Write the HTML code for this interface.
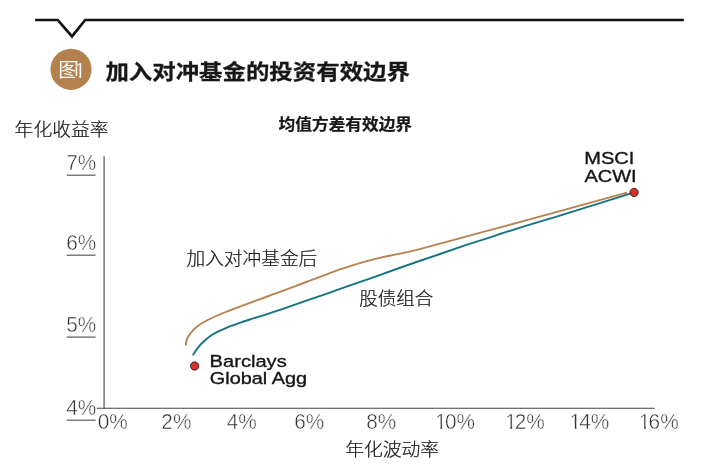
<!DOCTYPE html>
<html lang="zh">
<head>
<meta charset="utf-8">
<title>图1 加入对冲基金的投资有效边界</title>
<style>
html,body{margin:0;padding:0;background:#fff;}
body{width:713px;height:469px;overflow:hidden;}
svg{display:block;}
.cjk{font-family:"Liberation Sans","Noto Sans CJK SC",sans-serif;}
.lat{font-family:"Liberation Sans",sans-serif;}
.lt{font-weight:300;fill:#151515;stroke:#151515;stroke-width:0.22px;}
.hv{font-weight:700;fill:#171717;stroke:#171717;stroke-width:0.3px;}
.num{font-family:"Liberation Sans",sans-serif;font-size:20.8px;fill:#2e2e2e;stroke:#fff;stroke-width:0.45px;paint-order:fill stroke;}
.lab{fill:#151515;stroke:#151515;stroke-width:0.35px;}
</style>
</head>
<body>
<svg width="713" height="469" viewBox="0 0 713 469">
<rect width="713" height="469" fill="#fff"/>
<!-- header rule with notch -->
<path d="M35.2 20 H57.8 L72 36.3 L85.2 20 H683.8" fill="none" stroke="#111" stroke-width="2.7" stroke-linejoin="miter"/>
<!-- badge -->
<circle cx="71" cy="69.3" r="20.6" fill="#b3804e"/>
<text transform="translate(58.2 77.3) scale(1.1 1)" class="cjk" font-size="18.8" font-weight="400" fill="#fff">图</text>
<text x="73.7" y="78" class="lat" font-size="22" fill="#fff" stroke="#b3804e" stroke-width="0.35" paint-order="fill stroke">1</text>
<rect x="74.9" y="75.9" width="4.2" height="3" fill="#b3804e"/><rect x="81.3" y="75.9" width="4.2" height="3" fill="#b3804e"/>
<!-- title -->
<text transform="translate(105.4 79) scale(1 0.89)" class="cjk hv" font-size="23.44">加入对冲基金的投资有效边界</text>
<text transform="translate(278.6 129.5) scale(1 0.95)" class="cjk hv" font-size="16.7" style="stroke-width:0.25px">均值方差有效边界</text>
<!-- axis titles -->
<text transform="translate(14.6 136.2) scale(1 0.96)" class="cjk lt" font-size="18.8">年化收益率</text>
<text transform="translate(345.2 455.75) scale(1 0.95)" class="cjk lt" font-size="18.8">年化波动率</text>
<!-- axes -->
<line x1="104.1" y1="156.2" x2="104.1" y2="408.8" stroke="#777" stroke-width="1.5"/>
<line x1="96.7" y1="408.25" x2="654.6" y2="408.25" stroke="#444" stroke-width="1.05"/>
<!-- y ticks -->
<g stroke="#555" stroke-width="1.15">
<line x1="66.7" y1="175.2" x2="95.6" y2="175.2"/>
<line x1="66.7" y1="255.2" x2="95.6" y2="255.2"/>
<line x1="66.7" y1="337.1" x2="95.6" y2="337.1"/>
<line x1="66.7" y1="420.2" x2="95.6" y2="420.2"/>
</g>
<g class="num" text-anchor="middle">
<text transform="translate(81.2 170) scale(1 1.045)">7%</text>
<text transform="translate(81.2 250.2) scale(1 1.045)">6%</text>
<text transform="translate(81.2 331.6) scale(1 1.045)">5%</text>
<text transform="translate(81.2 414.5) scale(1 1.045)">4%</text>
<text transform="translate(112.7 428.7) scale(1 1.045)">0%</text>
<text transform="translate(176.4 428.7) scale(1 1.045)">2%</text>
<text transform="translate(241.7 428.7) scale(1 1.045)">4%</text>
<text transform="translate(309.3 428.7) scale(1 1.045)">6%</text>
<text transform="translate(381.3 428.7) scale(1 1.045)">8%</text>
<text transform="translate(435.1 428.7) scale(1 1.045)" text-anchor="start">1</text>
<rect x="436.1" y="426.7" width="4.3" height="3" fill="#fff" stroke="none"/><rect x="442.3" y="426.7" width="4" height="3" fill="#fff" stroke="none"/>
<text transform="translate(444.9 428.7) scale(1 1.045)" text-anchor="start">0%</text>
<text transform="translate(504.9 428.7) scale(1 1.045)" text-anchor="start">1</text>
<rect x="505.9" y="426.7" width="4.3" height="3" fill="#fff" stroke="none"/><rect x="512.1" y="426.7" width="4" height="3" fill="#fff" stroke="none"/>
<text transform="translate(514.7 428.7) scale(1 1.045)" text-anchor="start">2%</text>
<text transform="translate(569.5 428.7) scale(1 1.045)" text-anchor="start">1</text>
<rect x="570.5" y="426.7" width="4.3" height="3" fill="#fff" stroke="none"/><rect x="576.7" y="426.7" width="4" height="3" fill="#fff" stroke="none"/>
<text transform="translate(579.3 428.7) scale(1 1.045)" text-anchor="start">4%</text>
<text transform="translate(638.8 428.7) scale(1 1.045)" text-anchor="start">1</text>
<rect x="639.8" y="426.7" width="4.3" height="3" fill="#fff" stroke="none"/><rect x="646.0" y="426.7" width="4" height="3" fill="#fff" stroke="none"/>
<text transform="translate(648.6 428.7) scale(1 1.045)" text-anchor="start">6%</text>
</g>
<!-- curves -->
<path d="M185.8 345.6 C185.9 344.8 186.0 342.5 186.4 341.0 C186.8 339.5 187.5 338.0 188.3 336.5 C189.2 335.0 190.2 333.5 191.5 332.0 C192.8 330.5 194.3 328.9 196.0 327.5 C197.7 326.1 199.7 324.6 201.8 323.3 C203.9 322.0 206.0 320.9 208.8 319.5 C211.6 318.1 214.7 316.6 218.4 315.0 C222.1 313.4 226.9 311.4 231.2 309.8 C235.5 308.2 238.2 307.2 244.0 305.1 C249.8 303.0 260.0 299.2 266.0 297.0 C272.0 294.8 273.9 294.1 280.0 291.9 C286.1 289.6 295.7 286.0 302.4 283.5 C309.1 281.0 313.3 279.4 320.0 276.9 C326.7 274.4 334.9 271.2 342.4 268.7 C349.9 266.2 358.3 263.6 364.9 261.7 C371.4 259.8 377.1 258.5 381.7 257.4 C386.2 256.3 386.7 256.4 392.2 255.2 C397.7 254.0 406.6 252.3 414.6 250.4 C422.6 248.5 435.8 244.8 440.0 243.7 L491.7 229.7 L553.4 212.8 L615.1 195.9 L627 192.7" fill="none" stroke="#b78350" stroke-width="1.9" stroke-linejoin="round"/>
<path d="M192.8 355.4 C193.2 354.7 194.3 352.8 195.4 351.2 C196.5 349.6 197.7 347.8 199.2 346.1 C200.7 344.4 202.4 342.7 204.3 341.0 C206.2 339.3 208.3 337.4 210.7 335.8 C213.0 334.2 215.6 332.8 218.4 331.4 C221.2 330.0 224.2 328.6 227.4 327.3 C230.6 326.0 233.8 325.0 237.6 323.7 C241.4 322.4 242.9 321.8 250.0 319.5 C257.1 317.2 267.5 314.0 280.0 309.8 C292.5 305.6 309.9 299.4 324.9 294.4 C339.9 288.9 350.6 285.0 369.8 278.6 C389.0 271.6 419.7 260.7 440.0 254.0 C460.3 246.7 472.8 242.6 491.7 236.9 C510.6 230.4 532.8 223.7 553.4 217.7 L615.1 198.4 L631 193.3" fill="none" stroke="#157380" stroke-width="1.9" stroke-linejoin="round"/>
<!-- points -->
<circle cx="634.1" cy="192.4" r="4.15" fill="#d9302c" stroke="#1c1010" stroke-width="0.85"/>
<circle cx="194.7" cy="366" r="4.15" fill="#d9302c" stroke="#1c1010" stroke-width="0.85"/>
<!-- labels -->
<text transform="translate(186.5 265.1) scale(1 0.96)" class="cjk lt" font-size="18.7">加入对冲基金后</text>
<text transform="translate(359.3 305.1) scale(1 0.96)" class="cjk lt" font-size="18.5">股债组合</text>
<g class="lat lab" font-size="17.2">
<text transform="translate(209.6 367.2) scale(1.17 1)">Barclays</text>
<text transform="translate(209.8 384.1) scale(1.155 1)">Global Agg</text>
<text transform="translate(584.2 164.1) scale(1.165 1)">MSCI</text>
<text transform="translate(584.4 181.6) scale(1.165 1)">ACWI</text>
</g>
</svg>
</body>
</html>
